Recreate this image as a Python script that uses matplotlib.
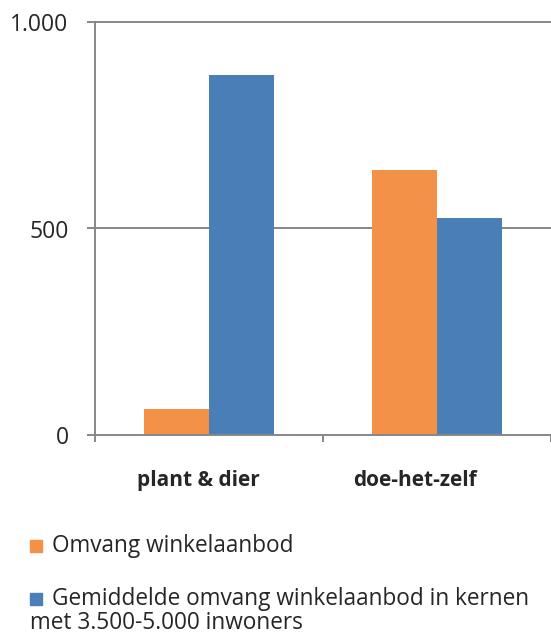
import matplotlib
matplotlib.use("Agg")
import matplotlib.pyplot as plt
from matplotlib.ticker import FuncFormatter, FixedLocator
from matplotlib.patches import Rectangle
from matplotlib.transforms import ScaledTranslation

categories = ["plant & dier", "doe-het-zelf"]
omvang = [63, 642]
gemiddelde = [872, 525]
series_names = ["Omvang winkelaanbod",
                "Gemiddelde omvang winkelaanbod in kernen",
                "met 3.500-5.000 inwoners"]
y_ticks = [0, 500, 1000]

ORANGE = "#F39149"
BLUE = "#4A7EB6"
GRID = "#878787"
TXT = "#262626"
FONT = ["Open Sans", "DejaVu Sans"]

plt.rcParams["font.family"] = FONT

fig = plt.figure(figsize=(5.51, 6.37), dpi=100)
ax = fig.add_axes([95 / 551, 1 - 435 / 637, 456 / 551, 413 / 637])

w = 0.286
x = list(range(len(categories)))
ax.bar([i - w / 2 for i in x], omvang, width=w, color=ORANGE, zorder=3)
ax.bar([i + w / 2 for i in x], gemiddelde, width=w, color=BLUE, zorder=3)

ax.set_xlim(-0.5, 1.5)
ax.set_ylim(0, 1000)

for s in ["top", "right"]:
    ax.spines[s].set_visible(False)
for s in ["left", "bottom"]:
    ax.spines[s].set_color(GRID)
    ax.spines[s].set_linewidth(1.4)
ax.spines["bottom"].set_zorder(4)

# gridlines at 500 and 1000
for v in y_ticks[1:]:
    ax.axhline(v, color=GRID, lw=1.4, zorder=1, clip_on=False)

ax.set_yticks(y_ticks)
ax.yaxis.set_major_formatter(FuncFormatter(lambda v, p: f"{int(v):,}".replace(",", ".")))
ax.tick_params(axis="y", length=6, width=1.4, color=GRID, pad=13,
               labelsize=16.5, labelcolor=TXT)

ax.set_xticks(x)
ax.set_xticklabels(categories, fontweight="bold")
ax.tick_params(axis="x", which="major", length=0, pad=25, labelsize=15, labelcolor=TXT)
ax.xaxis.set_minor_locator(FixedLocator([-0.5, 0.5, 1.5]))
ax.tick_params(axis="x", which="minor", length=5, width=1.4, color=GRID)

# nudge category labels slightly to the left
for lbl, dx in zip(ax.get_xticklabels(), [-0.11, -0.22]):
    lbl.set_transform(lbl.get_transform() + ScaledTranslation(dx, 0, fig.dpi_scale_trans))

# legend drawn below the plot
def legend_box(px, py, color):
    fig.patches.append(Rectangle((px / 551, 1 - (py + 6) / 637), 12 / 551, 12 / 637,
                                 transform=fig.transFigure, color=color, figure=fig))

LEG_SIZE = 16.3
legend_box(30, 546, ORANGE)
fig.text(52 / 551, 1 - 546 / 637, series_names[0], fontsize=LEG_SIZE, color=TXT, va="center")
legend_box(30, 599, BLUE)
fig.text(52 / 551, 1 - 599 / 637, series_names[1], fontsize=LEG_SIZE, color=TXT, va="center")
fig.text(30 / 551, 1 - 623 / 637, series_names[2], fontsize=LEG_SIZE, color=TXT, va="center")

fig.savefig("out.png", dpi=100)
